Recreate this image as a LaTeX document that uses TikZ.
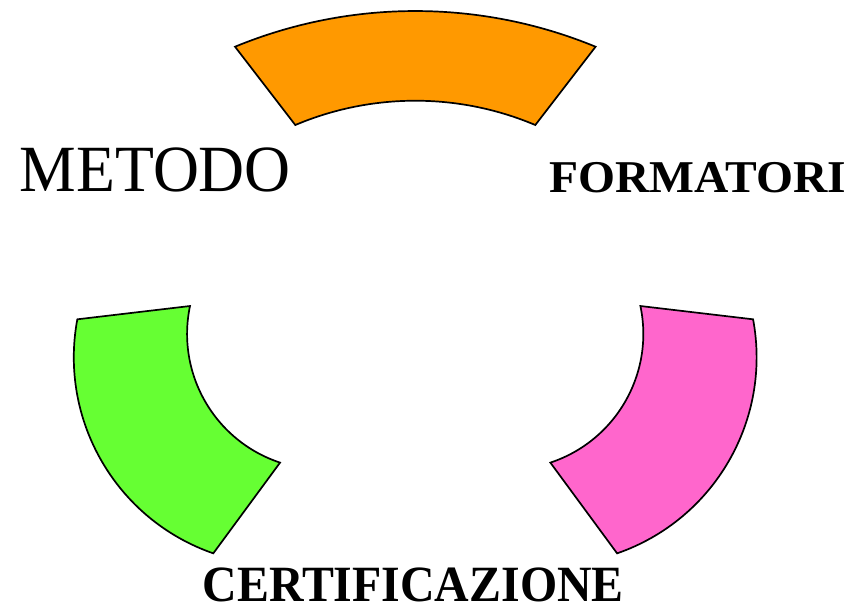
\documentclass[tikz,border=0pt]{standalone}
\usepackage{fontspec}
\usetikzlibrary{calc}
\setmainfont{Liberation Serif}
\definecolor{segorange}{HTML}{FF9900}
\definecolor{seggreen}{HTML}{66FF33}
\definecolor{segpink}{HTML}{FF66CC}
\begin{document}
\begin{tikzpicture}[x=1pt,y=-1pt,
  segment/.style={draw=black,line width=1.7pt,line join=miter},
  label/.style={inner sep=0pt,anchor=base west,text=black}]
\useasboundingbox (0,0) rectangle (858,608);
% centres of the arcs
\coordinate (oo) at (415.3,484.1);
\coordinate (oi) at (415.3,409.1);
\coordinate (go) at (281.3,357.3);
\coordinate (gi) at (322.7,333.9);
\coordinate (po) at (549.1,357.3);
\coordinate (pi) at (507.7,333.9);
% orange (top)
\path[segment,fill=segorange] ($(oo)+(247.6:473.1)$) arc[start angle=247.6,end angle=292.4,radius=473.1]
  -- ($(oi)+(292.9:308.4)$) arc[start angle=292.9,end angle=247.1,radius=308.4] -- cycle;
% green (left)
\path[segment,fill=seggreen] ($(go)+(190.55:207.5)$) arc[start angle=190.55,end angle=109.13,radius=207.5]
  -- ($(gi)+(108.34:135.6)$) arc[start angle=108.34,end angle=191.87,radius=135.6] -- cycle;
% pink (right)
\path[segment,fill=segpink] ($(po)+(-10.55:207.5)$) arc[start angle=-10.55,end angle=70.87,radius=207.5]
  -- ($(pi)+(71.66:135.6)$) arc[start angle=71.66,end angle=-11.87,radius=135.6] -- cycle;
% labels
\node[label,font=\fontsize{66}{66}\selectfont] (metodo) at (19.5,191.7) {\scalebox{0.965}[1]{METODO}};
\node[label,font=\fontsize{45.5}{46}\selectfont\bfseries] (formatori) at (549,192) {\scalebox{1.045}[1]{FORMATORI}};
\node[label,font=\fontsize{50.8}{51}\selectfont\bfseries] (certificazione) at (202.5,601.5) {\scalebox{0.942}[1]{CERTIFICAZIONE}};
\end{tikzpicture}
\end{document}
